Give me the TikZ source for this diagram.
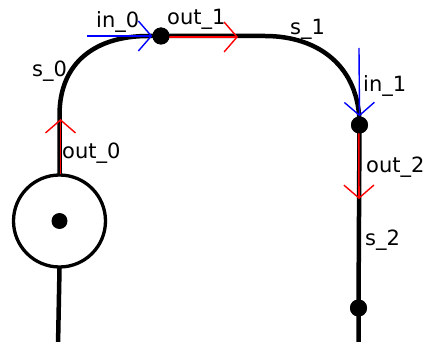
\documentclass[tikz,border=0pt]{standalone}
\usepackage{fontspec}
\setmainfont{DejaVu Sans}
\usetikzlibrary{arrows.meta}
\begin{document}
\begin{tikzpicture}[x=1pt,y=-1pt,
  wire/.style={line width=4.5pt,line cap=round},
  junction/.style={circle,fill=black,inner sep=0pt,minimum size=17pt},
  source/.style={circle,draw,line width=3.3pt,fill=white,inner sep=0pt,minimum size=92pt},
  portout/.style={draw=red,line width=1.6pt,-{Straight Barb[length=13pt,width=30pt,line width=1.4pt]}},
  portin/.style={draw=blue,line width=1.4pt,-{Straight Barb[length=13pt,width=30pt,line width=1.4pt]}},
  lbl/.style={anchor=base west,inner sep=0pt,font=\fontsize{21}{25}\selectfont}
]
\useasboundingbox (0,0) rectangle (424,342);

% source with its centre mark
\node[source] (src) at (59.5,221) {};
\node[junction,minimum size=16pt] (srcdot) at (src.center) {};

% junction points along the track
\node[junction] (j0) at (161,36) {};
\node[junction] (j1) at (359.5,125) {};
\node[junction] (j2) at (358.5,308) {};

% free ends of the track
\coordinate (endl) at (58,346);
\coordinate (endr) at (358.5,346);

% arrow end points
\coordinate (o0tip) at (60.5,119);
\coordinate (i0tail) at (87,36);
\coordinate (o1tip) at (238,37);
\coordinate (i1tail) at (359,48);
\coordinate (o2tip) at (359,199);

% track
\draw[wire] (src.south) -- (endl);
\draw[wire] (src.north) -- (59.5,115)
  .. controls (59.5,62) and (96,36) .. (148,36) -- (j0.center)
  -- (265,36) .. controls (318,36) and (359.5,66) .. (j1.center)
  -- (j2.center) -- (endr);

% port arrows
\draw[portout] ([xshift=1pt,yshift=-1pt]src.north) -- (o0tip);
\draw[portin] (i0tail) -- (j0.west);
\draw[portout] ([yshift=-1pt]j0.center) -- (o1tip);
\draw[portin] (i1tail) -- (j1.north);
\draw[portout] ([xshift=-0.8pt]j1.center) -- (o2tip);

% junction dots drawn over the arrows
\node[junction] at (j0) {};
\node[junction] at (j1) {};
\node[junction] at (j2) {};

% labels
\node[lbl] at (96,28) {in\_0};
\node[lbl] at (167,25) {out\_1};
\node[lbl] at (32,77) {s\_0};
\node[lbl] at (62,159) {out\_0};
\node[lbl] at (290,35) {s\_1};
\node[lbl] at (363,92) {in\_1};
\node[lbl] at (366,173) {out\_2};
\node[lbl] at (365,246) {s\_2};
\end{tikzpicture}
\end{document}
